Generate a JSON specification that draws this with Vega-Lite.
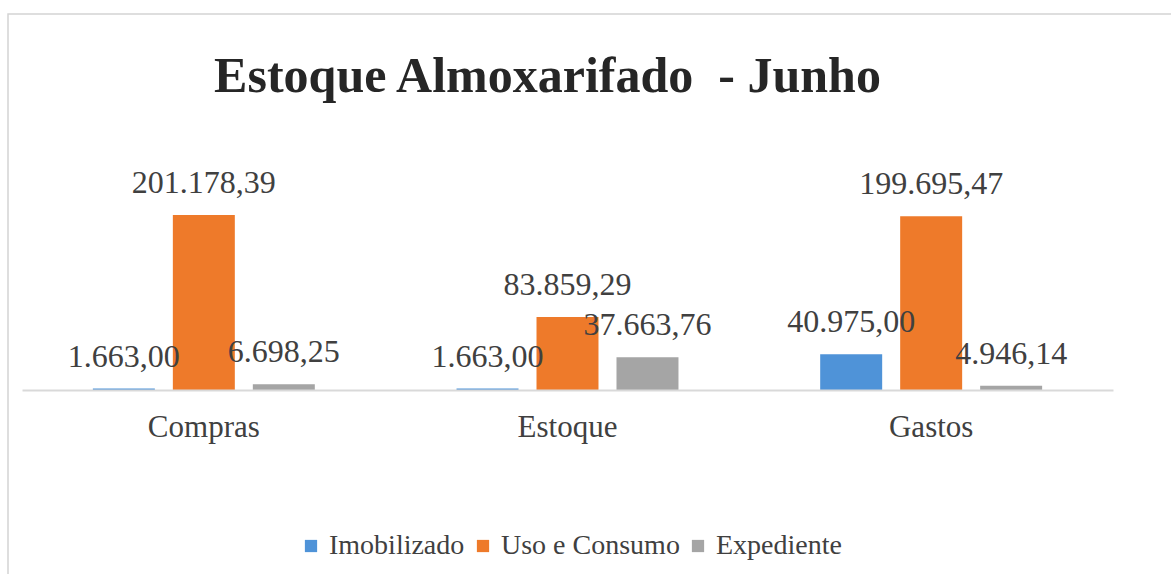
{
  "$schema": "https://vega.github.io/schema/vega-lite/v6.json",
  "autosize": "none",
  "width": 1175,
  "height": 570,
  "padding": {"left": 8, "top": 14, "right": 0, "bottom": 0},
  "background": "white",
  "config": {
    "locale": {"number": {"decimal": ",", "thousands": ".", "grouping": [3], "currency": ["R$", ""]}},
    "view": {"stroke": "#d4d4d4", "strokeWidth": 1.5, "fill": "white"},
    "font": "Liberation Serif",
    "text": {"font": "Liberation Serif"},
    "legend": {"labelFont": "Liberation Serif", "labelFontSize": 28, "labelColor": "#404040", "labelLimit": 0}
  },
  "title": {
    "text": "Estoque Almoxarifado\u00a0 - Junho",
    "font": "Liberation Serif",
    "fontSize": 50,
    "fontWeight": "bold",
    "color": "#262626",
    "anchor": "middle",
    "frame": "group",
    "dx": -48,
    "dy": 50,
    "offset": -78,
    "baseline": "alphabetic"
  },
  "data": {
    "values": [
      {"categoria": "Compras", "serie": "Imobilizado", "valor": 1663.00},
      {"categoria": "Compras", "serie": "Uso e Consumo", "valor": 201178.39},
      {"categoria": "Compras", "serie": "Expediente", "valor": 6698.25},
      {"categoria": "Estoque", "serie": "Imobilizado", "valor": 1663.00},
      {"categoria": "Estoque", "serie": "Uso e Consumo", "valor": 83859.29},
      {"categoria": "Estoque", "serie": "Expediente", "valor": 37663.76},
      {"categoria": "Gastos", "serie": "Imobilizado", "valor": 40975.00},
      {"categoria": "Gastos", "serie": "Uso e Consumo", "valor": 199695.47},
      {"categoria": "Gastos", "serie": "Expediente", "valor": 4946.14}
    ]
  },
  "encoding": {
    "x": {
      "field": "categoria",
      "type": "nominal",
      "sort": ["Compras", "Estoque", "Gastos"],
      "scale": {"range": [14, 1105], "paddingInner": 0, "paddingOuter": 0},
      "axis": {
        "orient": "bottom",
        "offset": -194,
        "zindex": 1,
        "title": null,
        "labelAngle": 0,
        "ticks": false,
        "domainColor": "#d9d9d9",
        "domainWidth": 2,
        "labelFont": "Liberation Serif",
        "labelFontSize": 31,
        "labelColor": "#404040",
        "labelPadding": 22
      }
    },
    "xOffset": {
      "field": "serie",
      "type": "nominal",
      "sort": ["Imobilizado", "Uso e Consumo", "Expediente"],
      "scale": {"paddingInner": 0.225, "paddingOuter": 0.886}
    },
    "y": {
      "field": "valor",
      "type": "quantitative",
      "scale": {"domain": [0, 432000], "range": [376, 0], "nice": false, "zero": true},
      "axis": null
    }
  },
  "layer": [
    {
      "mark": {"type": "bar"},
      "encoding": {
        "color": {
          "field": "serie",
          "type": "nominal",
          "sort": ["Imobilizado", "Uso e Consumo", "Expediente"],
          "scale": {
            "domain": ["Imobilizado", "Uso e Consumo", "Expediente"],
            "range": ["#4F93D8", "#EE7A2A", "#A5A5A5"]
          },
          "legend": {
            "title": null,
            "orient": "none",
            "direction": "horizontal",
            "legendX": 289,
            "legendY": 518,
            "symbolType": "square",
            "symbolSize": 150,
            "symbolStrokeWidth": 0,
            "labelFont": "Liberation Serif",
            "labelFontSize": 28,
            "labelColor": "#404040",
            "labelLimit": 0,
            "labelOffset": 4,
            "columnPadding": 4,
            "encode": {
              "labels": {
                "update": {
                  "font": {"value": "Liberation Serif"},
                  "fontSize": {"value": 28}
                }
              }
            }
          }
        }
      }
    },
    {
      "mark": {
        "type": "text",
        "baseline": "alphabetic",
        "dy": -22,
        "font": "Liberation Serif",
        "fontSize": 32,
        "color": "#404040"
      },
      "encoding": {
        "text": {"field": "valor", "type": "quantitative", "format": ",.2f"}
      }
    }
  ]
}
